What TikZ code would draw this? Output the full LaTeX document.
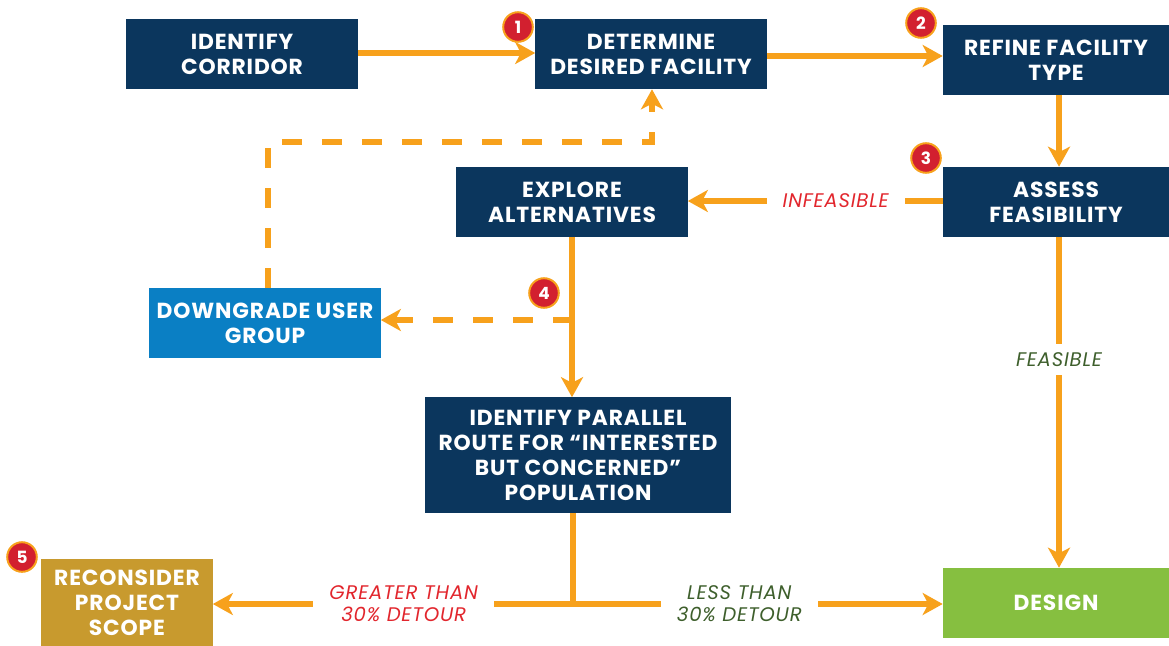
\documentclass[tikz,border=0pt]{standalone}
\usepackage{fontspec}
\setmainfont{Poppins}[LetterSpace=4]
\usetikzlibrary{arrows.meta}

\definecolor{navy}{HTML}{0B365D}
\definecolor{skyblue}{HTML}{0A7FC4}
\definecolor{gold}{HTML}{C89A2E}
\definecolor{leaf}{HTML}{86BF40}
\definecolor{flow}{HTML}{F7A11C}
\definecolor{badgered}{HTML}{D2202F}
\definecolor{nogo}{HTML}{E2262D}
\definecolor{gogreen}{HTML}{3E5F2C}

\begin{document}
\begin{tikzpicture}[x=0.025cm,y=-0.025cm]
    \useasboundingbox (0,0) rectangle (1169,645);
    \tikzset{
        BoxStyle/.style = {fill=navy, text=white, align=center, inner sep=0pt,
            font=\bfseries\fontsize{15.5}{17.8}\selectfont,
            minimum width=5.775cm, minimum height=1.75cm},
        EdgeStyle/.style = {draw=flow, line width=4.3pt,
            -{Stealth[length=0.5cm, width=0.55cm, inset=0.14cm]}},
        LineStyle/.style = {draw=flow, line width=4.3pt},
        DashStyle/.style = {dash pattern=on 0.5cm off 0.5cm},
        BadgeStyle/.style = {circle, fill=badgered, draw=flow, line width=1.4pt,
            minimum size=0.74cm, inner sep=0pt, text=white,
            font=\bfseries\fontsize{12}{12}\selectfont},
        LabelStyle/.style = {fill=white, inner xsep=0.4cm, inner ysep=2pt,
            align=center, font=\itshape\fontsize{14}{15.5}\selectfont}
    }

    % boxes
    \node[BoxStyle] (corridor) at (242,54) {IDENTIFY\\CORRIDOR};
    \node[BoxStyle] (desired) at (651,54) {DETERMINE\\DESIRED FACILITY};
    \node[BoxStyle, minimum width=5.65cm] (refine) at (1056,60) {REFINE FACILITY\\TYPE};
    \node[BoxStyle, minimum width=5.65cm] (assess) at (1056,202) {ASSESS\\FEASIBILITY};
    \node[BoxStyle] (explore) at (572,202) {EXPLORE\\ALTERNATIVES};
    \node[BoxStyle, fill=skyblue] (downgrade) at (265,323) {DOWNGRADE USER\\GROUP};
    \node[BoxStyle, minimum width=7.65cm, minimum height=2.875cm] (parallel) at (578,455)
        {IDENTIFY PARALLEL\\ROUTE FOR “INTERESTED\\BUT CONCERNED”\\POPULATION};
    \node[BoxStyle, fill=gold, minimum width=4.275cm, minimum height=2.2cm] (scope) at (127,603)
        {RECONSIDER\\PROJECT\\SCOPE};
    \node[BoxStyle, fill=leaf, minimum width=5.65cm] (design) at (1056,603) {DESIGN};

    % helper points
    \coordinate (split) at (573,320);
    \coordinate (tee) at (573,604);
    \coordinate (bend) at (268,142);

    % connectors
    \draw[EdgeStyle] (corridor.east |- 0,53) -- (desired.west |- 0,53);
    \draw[EdgeStyle] (desired.east |- 0,56) -- (refine.west |- 0,56);
    \draw[EdgeStyle] (refine.south -| 1059,0) -- (assess.north -| 1059,0);
    \draw[EdgeStyle] (assess.west |- 0,201) -- (explore.east |- 0,201)
        node[LabelStyle, text=nogo, pos=0.42] (infeasible) {INFEASIBLE};
    \draw[EdgeStyle] (explore.south) -- (explore.south |- parallel.north);
    \draw[EdgeStyle] (assess.south -| 1059,0) -- (design.north -| 1059,0)
        node[LabelStyle, text=gogreen, inner xsep=2pt, inner ysep=0.22cm, pos=0.37] (feasible) {FEASIBLE};
    \draw[EdgeStyle, DashStyle] (split) -- (downgrade.east |- split);
    \draw[EdgeStyle, DashStyle] (downgrade.north -| bend) -- (bend) -| (desired.south -| 652,0);
    \draw[LineStyle] (parallel.south -| tee) -- (tee);
    \draw[EdgeStyle] (tee) -- (scope.east |- tee)
        node[LabelStyle, text=nogo, pos=0.47] (greater) {GREATER THAN\\30\% DETOUR};
    \draw[EdgeStyle] (tee) -- (design.west |- tee)
        node[LabelStyle, text=gogreen, pos=0.45] (less) {LESS THAN\\30\% DETOUR};

    % numbered badges
    \node[BadgeStyle] (b1) at (518,27) {1};
    \node[BadgeStyle] (b2) at (921,23) {2};
    \node[BadgeStyle] (b3) at (926,158) {3};
    \node[BadgeStyle] (b4) at (544,293) {4};
    \node[BadgeStyle] (b5) at (22,557) {5};
\end{tikzpicture}
\end{document}
